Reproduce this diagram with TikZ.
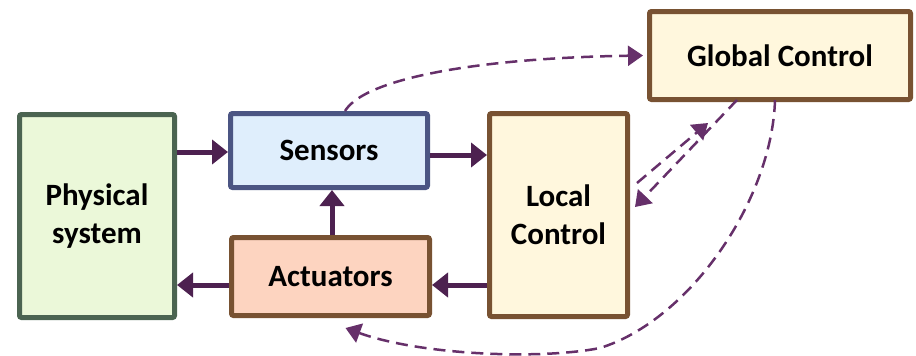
\documentclass[tikz,border=0pt]{standalone}
\usepackage{fontspec}
\setmainfont{Carlito}
\usetikzlibrary{arrows.meta,calc}

\definecolor{physfill}{HTML}{EBF8D9}
\definecolor{physline}{HTML}{4B6451}
\definecolor{sensfill}{HTML}{DFEEFC}
\definecolor{sensline}{HTML}{4B5583}
\definecolor{actfill}{HTML}{FDD4C0}
\definecolor{brownline}{HTML}{785232}
\definecolor{ctrlfill}{HTML}{FFF7DD}
\definecolor{flow}{HTML}{4D2150}
\definecolor{signal}{HTML}{66306A}

\tikzset{
  block/.style={draw, line width=5pt, rounded corners=2pt, align=center,
    font=\fontsize{31}{38}\selectfont\bfseries, inner sep=0pt},
  flowarrow/.style={draw=flow, line width=5pt,
    -{Triangle[length=16pt,width=24pt]}},
  signalarrow/.style={draw=signal, line width=2.5pt,
    dash pattern=on 12pt off 7pt,
    -{Triangle[length=15pt,width=20pt]}}
}

\begin{document}
\begin{tikzpicture}[x=1pt,y=-1pt]
  \useasboundingbox (0,0) rectangle (916,356);

  % blocks of the control loop
  \node[block, fill=physfill, draw=physline,
        minimum width=155pt, minimum height=203pt] (phys) at (97,216) {Physical\\system};
  \node[block, fill=sensfill, draw=sensline,
        minimum width=197pt, minimum height=74pt] (sens) at (329,150.5) {Sensors};
  \node[block, fill=actfill, draw=brownline,
        minimum width=198pt, minimum height=78pt] (act) at (330.5,276.5) {Actuators};
  \node[block, fill=ctrlfill, draw=brownline,
        minimum width=138pt, minimum height=203pt] (local) at (558.5,215) {Local\\Control};
  \node[block, fill=ctrlfill, draw=brownline,
        minimum width=261pt, minimum height=88pt] (global) at (780,55.5) {Global Control};

  % main signal flow
  \draw[flowarrow] (phys.east |- 0,152) -- (sens.west |- 0,152);
  \draw[flowarrow] (sens.east |- 0,155) -- (local.west |- 0,155);
  \draw[flowarrow] (local.west |- 0,285) -- (act.east |- 0,285);
  \draw[flowarrow] (act.west |- 0,285) -- (phys.east |- 0,285);
  \draw[flowarrow] (act.north -| 332,0) -- (sens.south -| 332,0);

  % exchanges with the global controller
  \draw[signalarrow] ($(sens.north)+(16,0)$)
     .. controls (365,78) and (480,58) .. ($(global.west)+(-4,0)$);
  \draw[signalarrow] ($(global.south)+(-43,-2)$) -- ($(local.east)+(5,-8)$);
  \draw[signalarrow] ($(local.east)+(7,-32)$) -- ($(global.south)+(-72,21)$);
  \draw[signalarrow] ($(global.south)+(-5,-2)$)
     .. controls (772,200) and (690,320) .. (600,348)
     .. controls (540,360) and (420,355) .. ($(act.south)+(15,10)$);
\end{tikzpicture}
\end{document}
